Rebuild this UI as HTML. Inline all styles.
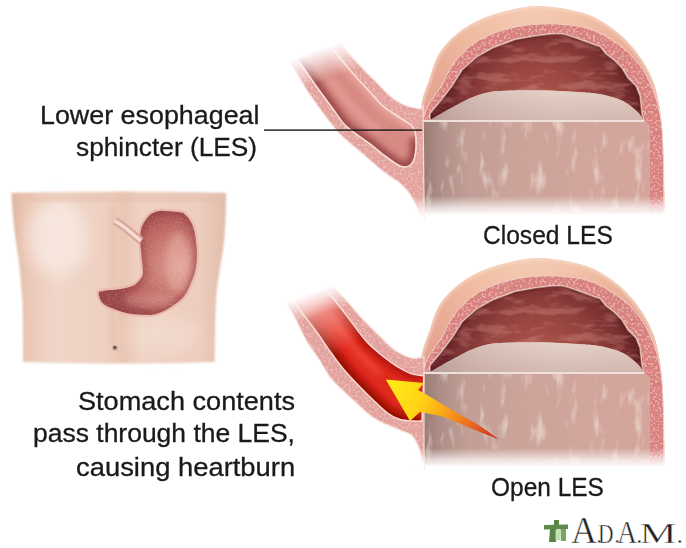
<!DOCTYPE html>
<html><head><meta charset="utf-8">
<style>
html,body{margin:0;padding:0;background:#fff;}
body{width:686px;height:548px;position:relative;overflow:hidden;font-family:"Liberation Sans",sans-serif;}
svg{position:absolute;left:0;top:0;}
.t{position:absolute;white-space:nowrap;color:#1a1a1a;font-size:26px;line-height:40px;transform-origin:0 0;-webkit-text-stroke:0.3px #1a1a1a;}
</style></head>
<body>
<svg width="686" height="548" viewBox="0 0 686 548">
<defs>
  <radialGradient id="peach" gradientUnits="userSpaceOnUse" cx="530" cy="-10" r="190">
    <stop offset="0" stop-color="#f6d0b8"/>
    <stop offset="0.35" stop-color="#f0bea4"/>
    <stop offset="0.65" stop-color="#e8aa94"/>
    <stop offset="1" stop-color="#e09a8c"/>
  </radialGradient>
  <radialGradient id="cav" gradientUnits="userSpaceOnUse" cx="540" cy="110" r="100" fx="540" fy="120">
    <stop offset="0" stop-color="#b86a5e"/>
    <stop offset="0.3" stop-color="#a65048"/>
    <stop offset="0.65" stop-color="#8c3c3a"/>
    <stop offset="1" stop-color="#642226"/>
  </radialGradient>
  <linearGradient id="cont" gradientUnits="userSpaceOnUse" x1="423" y1="0" x2="650" y2="0">
    <stop offset="0" stop-color="#9a7c74"/>
    <stop offset="0.08" stop-color="#ae8e86"/>
    <stop offset="0.2" stop-color="#c29e96"/>
    <stop offset="0.45" stop-color="#cca49a"/>
    <stop offset="0.75" stop-color="#d2a69c"/>
    <stop offset="1" stop-color="#d4a59b"/>
  </linearGradient>
  <linearGradient id="conttop" gradientUnits="userSpaceOnUse" x1="0" y1="89" x2="0" y2="121">
    <stop offset="0" stop-color="#e6d2c8"/>
    <stop offset="0.5" stop-color="#ddc6bc"/>
    <stop offset="1" stop-color="#d4bab0"/>
  </linearGradient>
  <linearGradient id="conttopH" gradientUnits="userSpaceOnUse" x1="425" y1="0" x2="645" y2="0">
    <stop offset="0" stop-color="#9a7e80" stop-opacity="0.55"/>
    <stop offset="0.25" stop-color="#b09090" stop-opacity="0.25"/>
    <stop offset="0.6" stop-color="#c0a0a0" stop-opacity="0"/>
    <stop offset="1" stop-color="#c0a0a0" stop-opacity="0.1"/>
  </linearGradient>
  <linearGradient id="fadeB" x1="0" y1="0" x2="0" y2="1">
    <stop offset="0" stop-color="#fff" stop-opacity="0"/>
    <stop offset="0.6" stop-color="#fff" stop-opacity="0.7"/>
    <stop offset="1" stop-color="#fff" stop-opacity="1"/>
  </linearGradient>
  <linearGradient id="lumT" gradientUnits="userSpaceOnUse" x1="352" y1="132" x2="378" y2="98">
    <stop offset="0" stop-color="#a85250"/>
    <stop offset="0.25" stop-color="#c46a66"/>
    <stop offset="0.6" stop-color="#dc8e88"/>
    <stop offset="1" stop-color="#e8a49c"/>
  </linearGradient>
  <linearGradient id="redLum" gradientUnits="userSpaceOnUse" x1="337" y1="377" x2="363" y2="349">
    <stop offset="0" stop-color="#9c1008"/>
    <stop offset="0.2" stop-color="#c8180e"/>
    <stop offset="0.5" stop-color="#e6362a"/>
    <stop offset="0.78" stop-color="#d42216"/>
    <stop offset="1" stop-color="#b81c14"/>
  </linearGradient>
  <linearGradient id="redFade" gradientUnits="userSpaceOnUse" x1="318" y1="300" x2="352" y2="345">
    <stop offset="0" stop-color="#f4b0a8" stop-opacity="0.9"/>
    <stop offset="1" stop-color="#f4b0a8" stop-opacity="0"/>
  </linearGradient>
  <linearGradient id="arrowG" gradientUnits="userSpaceOnUse" x1="392" y1="388" x2="500" y2="438">
    <stop offset="0" stop-color="#ffe818"/>
    <stop offset="0.25" stop-color="#ffd414"/>
    <stop offset="0.45" stop-color="#fcac18"/>
    <stop offset="0.7" stop-color="#ec7020"/>
    <stop offset="1" stop-color="#c42a20"/>
  </linearGradient>
  <linearGradient id="skin" x1="0" y1="0" x2="1" y2="0">
    <stop offset="0" stop-color="#dfb6a2"/>
    <stop offset="0.07" stop-color="#eac8b6"/>
    <stop offset="0.2" stop-color="#f0d6c8"/>
    <stop offset="0.45" stop-color="#edcfc0"/>
    <stop offset="0.52" stop-color="#e9c6b4"/>
    <stop offset="0.6" stop-color="#efd2c4"/>
    <stop offset="0.88" stop-color="#eccdbe"/>
    <stop offset="1" stop-color="#e2bca9"/>
  </linearGradient>
  <linearGradient id="escFadeG" gradientUnits="userSpaceOnUse" x1="316" y1="50" x2="327" y2="80">
    <stop offset="0" stop-color="#000"/>
    <stop offset="1" stop-color="#fff"/>
  </linearGradient>
  <mask id="escFade" maskUnits="userSpaceOnUse" x="0" y="0" width="686" height="548">
    <rect x="0" y="0" width="686" height="548" fill="url(#escFadeG)"/>
  </mask>
  <linearGradient id="escFadeG2" gradientUnits="userSpaceOnUse" x1="310" y1="293" x2="318" y2="316">
    <stop offset="0" stop-color="#000"/>
    <stop offset="1" stop-color="#fff"/>
  </linearGradient>
  <mask id="escFade2" maskUnits="userSpaceOnUse" x="0" y="0" width="686" height="548">
    <rect x="0" y="0" width="686" height="548" fill="url(#escFadeG2)"/>
  </mask>
  <filter id="soft" x="-10%" y="-10%" width="120%" height="120%"><feGaussianBlur stdDeviation="2.5"/></filter>
  <filter id="blur8" x="-50%" y="-50%" width="200%" height="200%"><feGaussianBlur stdDeviation="8"/></filter>
  <radialGradient id="tstom" gradientUnits="userSpaceOnUse" cx="175" cy="268" r="62" fx="180" fy="265">
    <stop offset="0" stop-color="#de9e94"/>
    <stop offset="0.4" stop-color="#cc7e74"/>
    <stop offset="0.75" stop-color="#b8605e"/>
    <stop offset="1" stop-color="#a04c4e"/>
  </radialGradient>
  <filter id="speck2" x="0" y="0" width="100%" height="100%">
    <feTurbulence type="fractalNoise" baseFrequency="0.5" numOctaves="1" seed="11" result="n"/>
    <feColorMatrix in="n" type="matrix" values="0 0 0 0 1  0 0 0 0 1  0 0 0 0 1  0 0 0 5 -2.9" result="a"/>
    <feComposite in="a" in2="SourceGraphic" operator="in"/>
  </filter>
  <filter id="b3" x="-20%" y="-20%" width="140%" height="140%"><feGaussianBlur stdDeviation="3"/></filter>
  <clipPath id="toplumclip"><path d="M330.0,45.0 C332.3,48.0 339.5,57.5 344.0,63.0 C348.5,68.5 352.7,73.2 357.0,78.0 C361.3,82.8 365.9,87.5 370.0,92.0 C374.1,96.5 377.5,101.1 381.5,104.8 C385.5,108.5 390.1,111.3 394.0,114.0 C397.9,116.7 402.2,119.2 405.0,121.0 C407.8,122.8 409.3,123.3 411.0,125.0 C412.7,126.7 414.3,130.0 415.0,131.0 L416.0,138.0 C416.0,139.7 416.2,144.7 416.0,148.0 C415.8,151.3 415.3,155.2 414.5,158.0 C413.7,160.8 412.6,163.0 411.0,164.5 C409.4,166.0 407.2,166.9 405.0,167.0 C402.8,167.1 401.3,166.8 398.0,165.0 C394.7,163.2 389.7,159.5 385.0,156.0 C380.3,152.5 374.8,147.7 370.0,144.0 C365.2,140.3 360.3,137.3 356.0,134.0 C351.7,130.7 347.8,128.2 344.0,124.0 C340.2,119.8 337.2,114.7 333.0,109.0 C328.8,103.3 323.7,96.6 319.0,90.0 C314.3,83.4 308.9,75.7 304.6,69.4 C300.3,63.1 294.9,54.9 293.0,52.0 Z"/></clipPath>
  <clipPath id="botlumclip"><path d="M318.0,280.0 C320.3,282.8 326.9,290.7 332.0,297.0 C337.1,303.3 342.7,310.5 348.5,318.0 C354.3,325.5 360.8,335.3 367.0,342.0 C373.2,348.7 380.3,354.1 385.5,358.3 C390.7,362.5 393.8,364.4 398.0,367.0 C402.2,369.6 406.7,372.1 411.0,373.6 C415.3,375.1 421.7,375.6 423.8,376.0 L422.0,421.0 C420.7,421.0 417.7,421.2 414.0,421.0 C410.3,420.8 404.4,420.8 400.0,419.5 C395.6,418.2 392.8,417.1 387.5,413.0 C382.2,408.9 374.9,401.8 368.0,395.0 C361.1,388.2 352.0,378.8 346.0,372.0 C340.0,365.2 336.8,360.5 332.0,354.0 C327.2,347.5 322.2,339.7 317.4,333.0 C312.6,326.3 307.6,320.2 303.0,314.0 C298.4,307.8 292.2,299.0 290.0,296.0 Z"/></clipPath>
  <filter id="b1"><feGaussianBlur stdDeviation="1"/></filter>
  <filter id="speck" x="0" y="0" width="100%" height="100%">
    <feTurbulence type="fractalNoise" baseFrequency="0.45" numOctaves="1" seed="3" result="n"/>
    <feColorMatrix in="n" type="matrix" values="0 0 0 0 0.98  0 0 0 0 0.8  0 0 0 0 0.76  0 0 0 6 -3.0" result="a"/>
    <feComposite in="a" in2="SourceGraphic" operator="in"/>
  </filter>
  <clipPath id="peachclip"><path d="M421,214 L421,112 L421.0,112.0 C421.2,110.0 421.1,105.1 422.4,100.0 C423.7,94.9 425.5,89.8 428.6,81.6 C431.7,73.4 434.4,60.2 440.8,51.0 C447.2,41.8 456.8,33.0 467.0,26.5 C477.2,20.0 489.8,15.4 502.0,12.0 C514.2,8.6 526.6,5.9 540.0,6.0 C553.4,6.1 571.5,9.8 582.5,12.8 C593.5,15.8 598.8,19.5 606.0,24.0 C613.2,28.5 620.0,34.0 626.0,40.0 C632.0,46.0 637.3,52.7 642.0,60.0 C646.7,67.3 651.0,75.7 654.0,84.0 C657.0,92.3 658.7,102.3 660.0,110.0 C661.3,117.7 661.7,126.7 662.0,130.0 L665,214 Z"/></clipPath>
  <clipPath id="cavclip"><path d="M430,121 L430,113.4 L441.4,100 L452.7,85 L462.2,69.8 L477.4,56.5 L492.5,48 L515,39.5 L536,35.7 L536.0,35.7 C540.0,35.4 553.3,33.4 560.0,33.8 C566.7,34.2 573.3,37.3 576.0,38.0 L595,45 L600,46.5 L606,54 L614,60 L622,68 L628,78 L636,86 L640,96 L642,114 L644,121 Z"/></clipPath>
  <filter id="streak" x="0" y="0" width="100%" height="100%">
    <feTurbulence type="fractalNoise" baseFrequency="0.09 0.03" numOctaves="3" seed="7" result="n"/>
    <feColorMatrix in="n" type="matrix" values="0 0 0 0 1  0 0 0 0 0.93  0 0 0 0 0.9  0 0 0 4 -2.3" result="a"/>
    <feComposite in="a" in2="SourceGraphic" operator="in"/>
  </filter>
  <filter id="rugae" x="0" y="0" width="100%" height="100%">
    <feTurbulence type="fractalNoise" baseFrequency="0.035 0.11" numOctaves="3" seed="5" result="n"/>
    <feColorMatrix in="n" type="matrix" values="0 0 0 0 0.74  0 0 0 0 0.34  0 0 0 0 0.3  0 0 0 5 -2.4" result="a"/>
    <feComposite in="a" in2="SourceGraphic" operator="in"/>
  </filter>
  <filter id="b04"><feGaussianBlur stdDeviation="0.45"/></filter>
  <filter id="b05"><feGaussianBlur stdDeviation="0.6"/></filter>

  <g id="stomach">
    <path d="M421,214 L421,112 L421.0,112.0 C421.2,110.0 421.1,105.1 422.4,100.0 C423.7,94.9 425.5,89.8 428.6,81.6 C431.7,73.4 434.4,60.2 440.8,51.0 C447.2,41.8 456.8,33.0 467.0,26.5 C477.2,20.0 489.8,15.4 502.0,12.0 C514.2,8.6 526.6,5.9 540.0,6.0 C553.4,6.1 571.5,9.8 582.5,12.8 C593.5,15.8 598.8,19.5 606.0,24.0 C613.2,28.5 620.0,34.0 626.0,40.0 C632.0,46.0 637.3,52.7 642.0,60.0 C646.7,67.3 651.0,75.7 654.0,84.0 C657.0,92.3 658.7,102.3 660.0,110.0 C661.3,117.7 661.7,126.7 662.0,130.0 L665,214 Z" fill="url(#peach)"/>
    <path d="M421,214 L421,112 L421.0,112.0 C421.2,110.0 421.1,105.1 422.4,100.0 C423.7,94.9 425.5,89.8 428.6,81.6 C431.7,73.4 434.4,60.2 440.8,51.0 C447.2,41.8 456.8,33.0 467.0,26.5 C477.2,20.0 489.8,15.4 502.0,12.0 C514.2,8.6 526.6,5.9 540.0,6.0 C553.4,6.1 571.5,9.8 582.5,12.8 C593.5,15.8 598.8,19.5 606.0,24.0 C613.2,28.5 620.0,34.0 626.0,40.0 C632.0,46.0 637.3,52.7 642.0,60.0 C646.7,67.3 651.0,75.7 654.0,84.0 C657.0,92.3 658.7,102.3 660.0,110.0 C661.3,117.7 661.7,126.7 662.0,130.0 L665,214 Z" fill="none" stroke="#f8dccb" stroke-width="5" opacity="0.6" clip-path="url(#peachclip)" filter="url(#b1)"/>
    <path d="M424,214 L422,120 L422.0,120.0 C423.0,117.7 425.8,110.2 428.0,106.0 C430.2,101.8 432.8,98.3 435.0,95.0 C437.2,91.7 438.6,90.8 441.4,86.0 C444.2,81.2 447.9,72.0 452.0,66.0 C456.1,60.0 461.0,54.6 466.0,50.0 C471.0,45.4 474.7,42.2 482.0,38.5 C489.3,34.8 500.3,30.4 510.0,28.0 C519.7,25.6 530.8,24.6 540.0,24.0 C549.2,23.4 556.7,23.7 565.0,24.5 C573.3,25.3 582.2,26.4 590.0,29.0 C597.8,31.6 605.3,35.8 612.0,40.0 C618.7,44.2 624.8,49.0 630.0,54.0 C635.2,59.0 639.2,64.0 643.0,70.0 C646.8,76.0 650.3,83.3 653.0,90.0 C655.7,96.7 657.5,103.3 659.0,110.0 C660.5,116.7 661.2,121.7 662.0,130.0 C662.8,138.3 663.2,155.0 663.5,160.0 L664,214 Z" fill="#d8807e" stroke="#f3cfc4" stroke-width="1"/>
    <path d="M424,214 L422,120 L422.0,120.0 C423.0,117.7 425.8,110.2 428.0,106.0 C430.2,101.8 432.8,98.3 435.0,95.0 C437.2,91.7 438.6,90.8 441.4,86.0 C444.2,81.2 447.9,72.0 452.0,66.0 C456.1,60.0 461.0,54.6 466.0,50.0 C471.0,45.4 474.7,42.2 482.0,38.5 C489.3,34.8 500.3,30.4 510.0,28.0 C519.7,25.6 530.8,24.6 540.0,24.0 C549.2,23.4 556.7,23.7 565.0,24.5 C573.3,25.3 582.2,26.4 590.0,29.0 C597.8,31.6 605.3,35.8 612.0,40.0 C618.7,44.2 624.8,49.0 630.0,54.0 C635.2,59.0 639.2,64.0 643.0,70.0 C646.8,76.0 650.3,83.3 653.0,90.0 C655.7,96.7 657.5,103.3 659.0,110.0 C660.5,116.7 661.2,121.7 662.0,130.0 C662.8,138.3 663.2,155.0 663.5,160.0 L664,214 Z" fill="#fff" opacity="0.45" filter="url(#speck)"/>
    <path d="M430,121 L430,113.4 L441.4,100 L452.7,85 L462.2,69.8 L477.4,56.5 L492.5,48 L515,39.5 L536,35.7 L536.0,35.7 C540.0,35.4 553.3,33.4 560.0,33.8 C566.7,34.2 573.3,37.3 576.0,38.0 L595,45 L600,46.5 L606,54 L614,60 L622,68 L628,78 L636,86 L640,96 L642,114 L644,121 Z" fill="url(#cav)" stroke="#f6dcd2" stroke-width="1.5"/>
    <path d="M430,121 L430,113.4 L441.4,100 L452.7,85 L462.2,69.8 L477.4,56.5 L492.5,48 L515,39.5 L536,35.7 L536.0,35.7 C540.0,35.4 553.3,33.4 560.0,33.8 C566.7,34.2 573.3,37.3 576.0,38.0 L595,45 L600,46.5 L606,54 L614,60 L622,68 L628,78 L636,86 L640,96 L642,114 L644,121 Z" fill="#fff" opacity="0.3" filter="url(#rugae)"/>
    <path d="M430,121 L430,113.4 L441.4,100 L452.7,85 L462.2,69.8 L477.4,56.5 L492.5,48 L515,39.5 L536,35.7 L536.0,35.7 C540.0,35.4 553.3,33.4 560.0,33.8 C566.7,34.2 573.3,37.3 576.0,38.0 L595,45 L600,46.5 L606,54 L614,60 L622,68 L628,78 L636,86 L640,96 L642,114 L644,121 Z" fill="none" stroke="#5a1c1e" stroke-width="5" opacity="0.45" filter="url(#b1)" clip-path="url(#cavclip)"/>
    <path d="M423,121 L432,119 L437.0,116.0 C440.0,114.3 449.2,109.1 455.0,106.0 C460.8,102.9 466.2,99.8 472.0,97.5 C477.8,95.2 483.5,93.2 490.0,92.0 C496.5,90.8 503.2,90.8 511.0,90.5 C518.8,90.2 528.8,90.2 537.0,90.3 C545.2,90.4 552.0,90.6 560.0,91.0 C568.0,91.4 578.0,91.9 585.0,92.5 C592.0,93.1 595.7,93.1 602.0,94.5 C608.3,95.9 617.2,98.2 623.0,101.0 C628.8,103.8 633.7,108.5 637.0,111.5 C640.3,114.5 641.8,117.4 643.0,119.0 C644.2,120.6 643.8,120.7 644.0,121.0 L650,125 L650,212 L423,212 Z" fill="url(#cont)"/>
    <path d="M423,121 L432,119 L437.0,116.0 C440.0,114.3 449.2,109.1 455.0,106.0 C460.8,102.9 466.2,99.8 472.0,97.5 C477.8,95.2 483.5,93.2 490.0,92.0 C496.5,90.8 503.2,90.8 511.0,90.5 C518.8,90.2 528.8,90.2 537.0,90.3 C545.2,90.4 552.0,90.6 560.0,91.0 C568.0,91.4 578.0,91.9 585.0,92.5 C592.0,93.1 595.7,93.1 602.0,94.5 C608.3,95.9 617.2,98.2 623.0,101.0 C628.8,103.8 633.7,108.5 637.0,111.5 C640.3,114.5 641.8,117.4 643.0,119.0 C644.2,120.6 643.8,120.7 644.0,121.0 L650,125 L650,212 L423,212 Z" fill="#fff" opacity="0.45" filter="url(#streak)"/>
    <path d="M423,121 L432,119 L437.0,116.0 C440.0,114.3 449.2,109.1 455.0,106.0 C460.8,102.9 466.2,99.8 472.0,97.5 C477.8,95.2 483.5,93.2 490.0,92.0 C496.5,90.8 503.2,90.8 511.0,90.5 C518.8,90.2 528.8,90.2 537.0,90.3 C545.2,90.4 552.0,90.6 560.0,91.0 C568.0,91.4 578.0,91.9 585.0,92.5 C592.0,93.1 595.7,93.1 602.0,94.5 C608.3,95.9 617.2,98.2 623.0,101.0 C628.8,103.8 633.7,108.5 637.0,111.5 C640.3,114.5 641.8,117.4 643.0,119.0 C644.2,120.6 643.8,120.7 644.0,121.0 Z" fill="url(#conttop)"/>
    <path d="M423,121 L432,119 L437.0,116.0 C440.0,114.3 449.2,109.1 455.0,106.0 C460.8,102.9 466.2,99.8 472.0,97.5 C477.8,95.2 483.5,93.2 490.0,92.0 C496.5,90.8 503.2,90.8 511.0,90.5 C518.8,90.2 528.8,90.2 537.0,90.3 C545.2,90.4 552.0,90.6 560.0,91.0 C568.0,91.4 578.0,91.9 585.0,92.5 C592.0,93.1 595.7,93.1 602.0,94.5 C608.3,95.9 617.2,98.2 623.0,101.0 C628.8,103.8 633.7,108.5 637.0,111.5 C640.3,114.5 641.8,117.4 643.0,119.0 C644.2,120.6 643.8,120.7 644.0,121.0 Z" fill="url(#conttopH)"/>
    <rect x="423" y="120" width="221" height="2" fill="#efe0da"/>
    <rect x="410" y="196" width="262" height="20" fill="url(#fadeB)"/>
  </g>
</defs>

<!-- ===== TOP ===== -->
<use href="#stomach" filter="url(#b04)"/>
<!-- top esophagus -->
<g mask="url(#escFade)" filter="url(#b04)">
  <path d="M336.0,36.0 C337.8,38.5 342.5,45.5 347.0,51.0 C351.5,56.5 357.8,63.5 363.0,69.0 C368.2,74.5 373.5,79.5 378.0,84.0 C382.5,88.5 386.3,92.8 390.0,96.0 C393.7,99.2 396.7,101.2 400.0,103.0 C403.3,104.8 406.5,106.0 410.0,107.0 C413.5,108.0 419.2,108.7 421.0,109.0 L423,105 L424,200 L424,218 L420.0,216.0 C419.8,215.5 419.9,215.4 418.9,212.9 C417.9,210.4 415.9,204.6 414.1,201.0 C412.3,197.4 410.8,194.7 408.2,191.5 C405.6,188.3 401.4,184.3 398.7,182.0 C396.0,179.7 394.9,179.6 392.0,177.5 C389.1,175.4 384.7,172.4 381.0,169.5 C377.3,166.6 374.2,163.6 370.0,160.0 C365.8,156.4 361.0,152.3 356.0,148.0 C351.0,143.7 345.4,139.7 340.0,134.0 C334.6,128.3 329.2,121.0 323.7,113.7 C318.2,106.4 311.6,96.8 307.0,90.0 C302.4,83.2 300.2,78.5 296.4,72.7 C292.6,66.9 286.1,58.0 284.0,55.0 Z" fill="#e4a29e" stroke="#f6dcd4" stroke-width="1.2"/>
  <path d="M336.0,36.0 C337.8,38.5 342.5,45.5 347.0,51.0 C351.5,56.5 357.8,63.5 363.0,69.0 C368.2,74.5 373.5,79.5 378.0,84.0 C382.5,88.5 386.3,92.8 390.0,96.0 C393.7,99.2 396.7,101.2 400.0,103.0 C403.3,104.8 406.5,106.0 410.0,107.0 C413.5,108.0 419.2,108.7 421.0,109.0 L423,105 L424,200 L424,218 L420.0,216.0 C419.8,215.5 419.9,215.4 418.9,212.9 C417.9,210.4 415.9,204.6 414.1,201.0 C412.3,197.4 410.8,194.7 408.2,191.5 C405.6,188.3 401.4,184.3 398.7,182.0 C396.0,179.7 394.9,179.6 392.0,177.5 C389.1,175.4 384.7,172.4 381.0,169.5 C377.3,166.6 374.2,163.6 370.0,160.0 C365.8,156.4 361.0,152.3 356.0,148.0 C351.0,143.7 345.4,139.7 340.0,134.0 C334.6,128.3 329.2,121.0 323.7,113.7 C318.2,106.4 311.6,96.8 307.0,90.0 C302.4,83.2 300.2,78.5 296.4,72.7 C292.6,66.9 286.1,58.0 284.0,55.0 Z" fill="#fff" opacity="0.35" filter="url(#speck)"/>
  <path d="M330.0,45.0 C332.3,48.0 339.5,57.5 344.0,63.0 C348.5,68.5 352.7,73.2 357.0,78.0 C361.3,82.8 365.9,87.5 370.0,92.0 C374.1,96.5 377.5,101.1 381.5,104.8 C385.5,108.5 390.1,111.3 394.0,114.0 C397.9,116.7 402.2,119.2 405.0,121.0 C407.8,122.8 409.3,123.3 411.0,125.0 C412.7,126.7 414.3,130.0 415.0,131.0 L416.0,138.0 C416.0,139.7 416.2,144.7 416.0,148.0 C415.8,151.3 415.3,155.2 414.5,158.0 C413.7,160.8 412.6,163.0 411.0,164.5 C409.4,166.0 407.2,166.9 405.0,167.0 C402.8,167.1 401.3,166.8 398.0,165.0 C394.7,163.2 389.7,159.5 385.0,156.0 C380.3,152.5 374.8,147.7 370.0,144.0 C365.2,140.3 360.3,137.3 356.0,134.0 C351.7,130.7 347.8,128.2 344.0,124.0 C340.2,119.8 337.2,114.7 333.0,109.0 C328.8,103.3 323.7,96.6 319.0,90.0 C314.3,83.4 308.9,75.7 304.6,69.4 C300.3,63.1 294.9,54.9 293.0,52.0 Z" fill="#d88a84"/>
  <g clip-path="url(#toplumclip)">
    <path d="M293.0,52.0 C294.9,54.9 300.3,63.1 304.6,69.4 C308.9,75.7 314.3,83.4 319.0,90.0 C323.7,96.6 328.8,103.3 333.0,109.0 C337.2,114.7 340.2,119.8 344.0,124.0 C347.8,128.2 351.7,130.7 356.0,134.0 C360.3,137.3 365.2,140.3 370.0,144.0 C374.8,147.7 380.3,152.5 385.0,156.0 C389.7,159.5 394.7,163.2 398.0,165.0 C401.3,166.8 402.8,167.1 405.0,167.0 C407.2,166.9 409.4,166.0 411.0,164.5 C412.6,163.0 413.7,160.8 414.5,158.0 C415.3,155.2 415.8,151.3 416.0,148.0 C416.2,144.7 416.0,139.7 416.0,138.0" fill="none" stroke="#9c4a4a" stroke-width="12" filter="url(#b3)"/>
    <path d="M330.0,45.0 C332.3,48.0 339.5,57.5 344.0,63.0 C348.5,68.5 352.7,73.2 357.0,78.0 C361.3,82.8 365.9,87.5 370.0,92.0 C374.1,96.5 377.5,101.1 381.5,104.8 C385.5,108.5 390.1,111.3 394.0,114.0 C397.9,116.7 402.2,119.2 405.0,121.0 C407.8,122.8 409.3,123.3 411.0,125.0 C412.7,126.7 414.3,130.0 415.0,131.0" fill="none" stroke="#e8a49c" stroke-width="10" filter="url(#b3)"/>
    <path d="M329.5,78.5 C331.8,81.3 338.8,90.2 343.0,95.5 C347.2,100.8 351.0,105.7 355.0,110.0 C359.0,114.3 362.6,117.9 366.8,121.4 C370.9,124.9 377.8,129.4 380.0,131.0" fill="none" stroke="#eaa8a0" stroke-width="4" filter="url(#b3)"/>
  </g>
  <path d="M330.0,45.0 C332.3,48.0 339.5,57.5 344.0,63.0 C348.5,68.5 352.7,73.2 357.0,78.0 C361.3,82.8 365.9,87.5 370.0,92.0 C374.1,96.5 377.5,101.1 381.5,104.8 C385.5,108.5 390.1,111.3 394.0,114.0 C397.9,116.7 402.2,119.2 405.0,121.0 C407.8,122.8 409.3,123.3 411.0,125.0 C412.7,126.7 414.3,130.0 415.0,131.0 L416.0,138.0 C416.0,139.7 416.2,144.7 416.0,148.0 C415.8,151.3 415.3,155.2 414.5,158.0 C413.7,160.8 412.6,163.0 411.0,164.5 C409.4,166.0 407.2,166.9 405.0,167.0 C402.8,167.1 401.3,166.8 398.0,165.0 C394.7,163.2 389.7,159.5 385.0,156.0 C380.3,152.5 374.8,147.7 370.0,144.0 C365.2,140.3 360.3,137.3 356.0,134.0 C351.7,130.7 347.8,128.2 344.0,124.0 C340.2,119.8 337.2,114.7 333.0,109.0 C328.8,103.3 323.7,96.6 319.0,90.0 C314.3,83.4 308.9,75.7 304.6,69.4 C300.3,63.1 294.9,54.9 293.0,52.0 Z" fill="none" stroke="#f8e0d8" stroke-width="1.6"/>
</g>

<rect x="404" y="196" width="20.5" height="22" fill="url(#fadeB)"/>
<!-- ===== BOTTOM ===== -->
<g transform="translate(0,252)"><use href="#stomach" filter="url(#b04)"/></g>
<g mask="url(#escFade2)" filter="url(#b04)">
  <path d="M328.0,280.0 C330.9,283.2 339.6,292.9 345.2,299.2 C350.8,305.5 355.8,311.8 361.6,318.0 C367.4,324.2 374.9,331.5 380.0,336.5 C385.1,341.5 388.2,344.9 392.0,348.0 C395.8,351.1 399.4,353.3 403.0,355.0 C406.6,356.7 410.1,358.0 413.6,358.3 C417.1,358.6 422.3,357.2 424.0,357.0 L424,440 L424,470 L425.0,468.0 C424.7,467.2 424.5,466.9 423.4,463.4 C422.3,459.9 420.6,451.5 418.6,446.8 C416.6,442.1 414.6,437.8 411.5,435.0 C408.4,432.2 406.1,432.8 400.0,430.0 C393.9,427.2 382.1,423.2 374.7,418.5 C367.3,413.8 362.5,408.4 355.5,402.0 C348.5,395.6 338.6,387.2 332.6,380.2 C326.6,373.2 324.0,366.6 319.6,360.0 C315.2,353.4 310.4,347.4 306.4,340.5 C302.4,333.6 299.6,326.0 295.5,318.6 C291.4,311.2 284.2,299.8 282.0,296.0 Z" fill="#e4a29e" stroke="#f6dcd4" stroke-width="1.2"/>
  <path d="M328.0,280.0 C330.9,283.2 339.6,292.9 345.2,299.2 C350.8,305.5 355.8,311.8 361.6,318.0 C367.4,324.2 374.9,331.5 380.0,336.5 C385.1,341.5 388.2,344.9 392.0,348.0 C395.8,351.1 399.4,353.3 403.0,355.0 C406.6,356.7 410.1,358.0 413.6,358.3 C417.1,358.6 422.3,357.2 424.0,357.0 L424,440 L424,470 L425.0,468.0 C424.7,467.2 424.5,466.9 423.4,463.4 C422.3,459.9 420.6,451.5 418.6,446.8 C416.6,442.1 414.6,437.8 411.5,435.0 C408.4,432.2 406.1,432.8 400.0,430.0 C393.9,427.2 382.1,423.2 374.7,418.5 C367.3,413.8 362.5,408.4 355.5,402.0 C348.5,395.6 338.6,387.2 332.6,380.2 C326.6,373.2 324.0,366.6 319.6,360.0 C315.2,353.4 310.4,347.4 306.4,340.5 C302.4,333.6 299.6,326.0 295.5,318.6 C291.4,311.2 284.2,299.8 282.0,296.0 Z" fill="#fff" opacity="0.35" filter="url(#speck)"/>
  <path d="M318.0,280.0 C320.3,282.8 326.9,290.7 332.0,297.0 C337.1,303.3 342.7,310.5 348.5,318.0 C354.3,325.5 360.8,335.3 367.0,342.0 C373.2,348.7 380.3,354.1 385.5,358.3 C390.7,362.5 393.8,364.4 398.0,367.0 C402.2,369.6 406.7,372.1 411.0,373.6 C415.3,375.1 421.7,375.6 423.8,376.0 L422.0,421.0 C420.7,421.0 417.7,421.2 414.0,421.0 C410.3,420.8 404.4,420.8 400.0,419.5 C395.6,418.2 392.8,417.1 387.5,413.0 C382.2,408.9 374.9,401.8 368.0,395.0 C361.1,388.2 352.0,378.8 346.0,372.0 C340.0,365.2 336.8,360.5 332.0,354.0 C327.2,347.5 322.2,339.7 317.4,333.0 C312.6,326.3 307.6,320.2 303.0,314.0 C298.4,307.8 292.2,299.0 290.0,296.0 Z" fill="#e02a1e"/>
  <g clip-path="url(#botlumclip)">
    <path d="M290.0,296.0 C292.2,299.0 298.4,307.8 303.0,314.0 C307.6,320.2 312.6,326.3 317.4,333.0 C322.2,339.7 327.2,347.5 332.0,354.0 C336.8,360.5 340.0,365.2 346.0,372.0 C352.0,378.8 361.1,388.2 368.0,395.0 C374.9,401.8 382.2,408.9 387.5,413.0 C392.8,417.1 395.6,418.2 400.0,419.5 C404.4,420.8 410.3,420.8 414.0,421.0 C417.7,421.2 420.7,421.0 422.0,421.0" fill="none" stroke="#9a0c06" stroke-width="14" filter="url(#b3)"/>
    <path d="M318.0,280.0 C320.3,282.8 326.9,290.7 332.0,297.0 C337.1,303.3 342.7,310.5 348.5,318.0 C354.3,325.5 360.8,335.3 367.0,342.0 C373.2,348.7 380.3,354.1 385.5,358.3 C390.7,362.5 393.8,364.4 398.0,367.0 C402.2,369.6 406.7,372.1 411.0,373.6 C415.3,375.1 421.7,375.6 423.8,376.0" fill="none" stroke="#b01208" stroke-width="10" filter="url(#b3)"/>
    <path d="M327.7,312.0 C330.3,315.5 337.9,326.0 343.2,333.0 C348.6,340.0 353.4,347.2 359.5,354.0 C365.6,360.8 376.4,370.4 379.8,373.6" fill="none" stroke="#f04a3a" stroke-width="5" filter="url(#b3)"/>
  </g>
  <path d="M318.0,280.0 C320.3,282.8 326.9,290.7 332.0,297.0 C337.1,303.3 342.7,310.5 348.5,318.0 C354.3,325.5 360.8,335.3 367.0,342.0 C373.2,348.7 380.3,354.1 385.5,358.3 C390.7,362.5 393.8,364.4 398.0,367.0 C402.2,369.6 406.7,372.1 411.0,373.6 C415.3,375.1 421.7,375.6 423.8,376.0 L422.0,421.0 C420.7,421.0 417.7,421.2 414.0,421.0 C410.3,420.8 404.4,420.8 400.0,419.5 C395.6,418.2 392.8,417.1 387.5,413.0 C382.2,408.9 374.9,401.8 368.0,395.0 C361.1,388.2 352.0,378.8 346.0,372.0 C340.0,365.2 336.8,360.5 332.0,354.0 C327.2,347.5 322.2,339.7 317.4,333.0 C312.6,326.3 307.6,320.2 303.0,314.0 C298.4,307.8 292.2,299.0 290.0,296.0 Z" fill="url(#redFade)" stroke="#f8e0d8" stroke-width="1.4"/>
</g>
<rect x="404" y="448" width="20.5" height="22" fill="url(#fadeB)"/>
<!-- arrow -->
<path d="M385.8,379.4 L424,383 L418,390 C432,397 450,410 470,420 C482,427 492,434 499,439.6 C490,436 480,432 470,428 C460,424 452,420 444,417 C436,415 428,413 420,412 L410,421 Z" fill="url(#arrowG)" filter="url(#b05)"/>

<!-- leader line -->
<rect x="264" y="129.4" width="158" height="1.4" fill="#1a1a1a"/>

<!-- ===== TORSO ===== -->
<g>
  <path d="M11.5,193 C60,191 180,191 226,193 C226,215 225,235 223,250 C220,268 217,285 216,300 C215,320 215,340 214.7,362 C160,364 80,364 23,362 C23,340 23,320 22.4,300 C21,285 20,268 18,255 C16,240 13,225 11.5,193 Z" fill="url(#skin)" filter="url(#b1)"/>
  <ellipse cx="58" cy="238" rx="30" ry="38" fill="#f9eae3" opacity="0.8" filter="url(#blur8)"/>
  <ellipse cx="165" cy="335" rx="35" ry="18" fill="#f6e2d8" opacity="0.5" filter="url(#blur8)"/>
  <rect x="20" y="194" width="200" height="8" fill="#e4bcaa" opacity="0.5" filter="url(#soft)"/>
  <rect x="109" y="205" width="6" height="140" fill="#e2bba9" opacity="0.45" filter="url(#soft)"/>
  <!-- torso stomach -->
  <clipPath id="tsclip"><path d="M143,222 C148,213 156,209 164,209.8 C172,210 180,211 184,212 C192,218 196,228 197,240 C199,255 198,270 193,281 C189,292 185,298 181,301 C170,310 160,315 151,316 C140,316 128,315 122,313 C112,310 104,307 101,303 C98,298 97,294 98,291 C104,289 110,289 115,288.6 C122,288 130,286 134,284 C138,281 141,277 142,274 C142,268 141,262 140.5,257 C140,250 139,245 139,239 C139,232 140,226 143,222 Z"/></clipPath>
  <path d="M143,222 C148,213 156,209 164,209.8 C172,210 180,211 184,212 C192,218 196,228 197,240 C199,255 198,270 193,281 C189,292 185,298 181,301 C170,310 160,315 151,316 C140,316 128,315 122,313 C112,310 104,307 101,303 C98,298 97,294 98,291 C104,289 110,289 115,288.6 C122,288 130,286 134,284 C138,281 141,277 142,274 C142,268 141,262 140.5,257 C140,250 139,245 139,239 C139,232 140,226 143,222 Z" fill="url(#tstom)"/>
  <g clip-path="url(#tsclip)">
    <path d="M143,222 C148,213 156,209 164,209.8 C172,210 180,211 184,212 C192,218 196,228 197,240 C199,255 198,270 193,281 C189,292 185,298 181,301 C170,310 160,315 151,316 C140,316 128,315 122,313 C112,310 104,307 101,303 C98,298 97,294 98,291 C104,289 110,289 115,288.6 C122,288 130,286 134,284 C138,281 141,277 142,274 C142,268 141,262 140.5,257 C140,250 139,245 139,239 C139,232 140,226 143,222 Z" fill="none" stroke="#903c40" stroke-width="9" opacity="0.5" filter="url(#b3)"/>
    <ellipse cx="178" cy="262" rx="12" ry="30" fill="#eab4ac" opacity="0.45" filter="url(#b3)"/>
    <ellipse cx="150" cy="300" rx="25" ry="7" fill="#e4aaa4" opacity="0.35" filter="url(#b3)"/>
    <path d="M143,222 C148,213 156,209 164,209.8 C172,210 180,211 184,212 C192,218 196,228 197,240 C199,255 198,270 193,281 C189,292 185,298 181,301 C170,310 160,315 151,316 C140,316 128,315 122,313 C112,310 104,307 101,303 C98,298 97,294 98,291 C104,289 110,289 115,288.6 C122,288 130,286 134,284 C138,281 141,277 142,274 C142,268 141,262 140.5,257 C140,250 139,245 139,239 C139,232 140,226 143,222 Z" fill="#fff" opacity="0.16" filter="url(#speck2)"/>
  </g>
  <path d="M143,222 C148,213 156,209 164,209.8 C172,210 180,211 184,212 C192,218 196,228 197,240 C199,255 198,270 193,281 C189,292 185,298 181,301 C170,310 160,315 151,316 C140,316 128,315 122,313 C112,310 104,307 101,303 C98,298 97,294 98,291 C104,289 110,289 115,288.6 C122,288 130,286 134,284 C138,281 141,277 142,274 C142,268 141,262 140.5,257 C140,250 139,245 139,239 C139,232 140,226 143,222 Z" fill="none" stroke="#ebbab0" stroke-width="2.2"/>
  <path d="M115,221 C124,226 132,233 141,241" stroke="#dca49c" stroke-width="8" fill="none"/>
  <path d="M115,221 C124,226 132,233 141,241" stroke="#f4ddd4" stroke-width="3.5" fill="none"/>
  <ellipse cx="115" cy="348" rx="3.2" ry="3" fill="#c8a496" opacity="0.6"/><ellipse cx="114.8" cy="347.6" rx="1.8" ry="1.8" fill="#6a544a"/>
</g>

<!-- ADAM logo -->
<g fill="#6a9456" filter="url(#b05)">
  <rect x="554" y="520" width="5" height="5" fill="#5c8448"/>
  <path d="M544,525 L568,524.5 L568,529 L544,529.5 Z" fill="#5e8a4a"/>
  <path d="M550,529 L556.5,529 L556,542 L549,542 Z" fill="#5a8446"/>
  <path d="M560.5,529 L566,529 L566,541 L561,541 Z" fill="#7aa462"/>
  <rect x="555.5" y="530" width="5" height="10" fill="#c4e0b0"/>
</g>
<g font-family="Liberation Serif" fill="#222" stroke="#fff" stroke-width="0.45" paint-order="fill">
  <text x="571" y="543" font-size="37" textLength="26" lengthAdjust="spacingAndGlyphs">A</text>
  <text x="596" y="543" font-size="26">.</text>
  <text x="598" y="543" font-size="27" textLength="15.5" lengthAdjust="spacingAndGlyphs">D</text>
  <text x="614" y="543" font-size="26">.</text>
  <text x="617" y="543" font-size="31" textLength="20" lengthAdjust="spacingAndGlyphs">A</text>
  <text x="636" y="543" font-size="26">.</text>
  <text x="639.5" y="543" font-size="30" textLength="37" lengthAdjust="spacingAndGlyphs">M</text>
  <text x="676.5" y="543" font-size="26">.</text>
</g>
</svg>

<div class="t" style="left:39.73px;top:95.3px;transform:scaleX(1.033);">Lower esophageal</div>
<div class="t" style="left:75.59px;top:127.3px;transform:scaleX(1.0107);">sphincter (LES)</div>
<div class="t" style="left:77.51px;top:381.4px;transform:scaleX(1.0429);">Stomach contents</div>
<div class="t" style="left:32.86px;top:413.2px;transform:scaleX(1.0182);">pass through the LES,</div>
<div class="t" style="left:76.35px;top:446.6px;transform:scaleX(1.0529);">causing heartburn</div>
<div class="t" style="left:482.85px;top:214.5px;transform:scaleX(0.9452);">Closed LES</div>
<div class="t" style="left:491.36px;top:466.5px;transform:scaleX(0.9407);">Open LES</div>
</body></html>
